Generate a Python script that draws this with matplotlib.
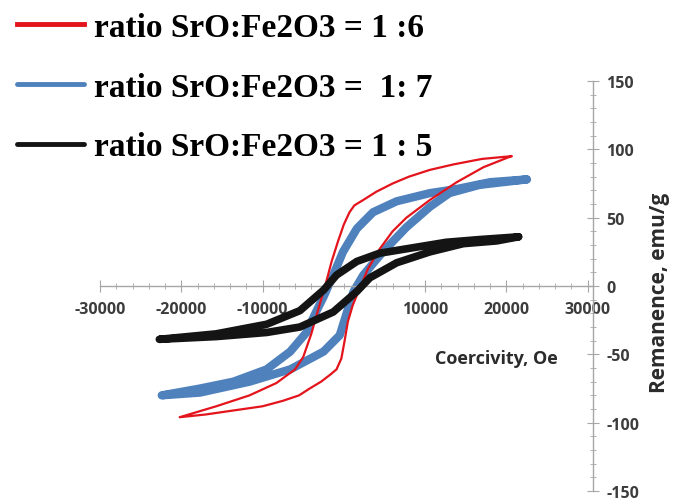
import matplotlib
matplotlib.use('Agg')
import matplotlib.pyplot as plt
from matplotlib.ticker import MultipleLocator, FixedLocator

# ratio 1:6 (red) - descending and ascending branches
red_desc_x = [20600, 17000, 13500, 10600, 8000, 6000, 4000, 2400, 1300, 700, 0, -700, -1500,
              -2300, -3000, -4000, -5000, -6000, -8300, -11600, -15700, -20200]
red_desc_y = [95, 93, 89, 85, 80, 75, 69, 63, 59, 54, 45, 33, 18,
              0, -14, -35, -52, -61, -71, -80, -88, -96]
red_asc_x = [-20200, -17000, -13500, -10000, -7500, -5500, -4200, -2800, -1700, -900, -300, 100,
             500, 1100, 1800, 2300, 3000, 4400, 6000, 7700, 10600, 13900, 17200, 20600]
red_asc_y = [-96, -94, -91, -88, -84, -80, -75, -70, -65, -61, -53, -40,
             -26, -14, -4, 3, 13, 27, 40, 50, 63, 76, 87, 95]

# ratio 1:7 (blue)
blue_desc_x = [22500, 18000, 13900, 10600, 6500, 3600, 1600, -100, -1300, -2500, -3500, -4600,
               -6600, -9500, -13600, -17700, -22400]
blue_desc_y = [78, 76, 71, 68, 62, 54, 42, 25, 8, -8, -20, -34, -48, -61, -70, -75, -80]
blue_asc_x = [-22400, -17700, -11600, -6600, -2500, -500, 500, 1200, 2400, 4800, 7700, 10600,
              13000, 16700, 22500]
blue_asc_y = [-80, -78, -70, -61, -48, -36, -17, -4, 8, 25, 43, 58, 68, 74, 78]

# ratio 1:5 (black)
black_desc_x = [21500, 16700, 12600, 8500, 4400, 1600, -900, -2500, -5400, -9500, -15700, -22700]
black_desc_y = [36, 34, 32, 28, 24, 18, 8, -3, -18, -28, -35, -39]
black_asc_x = [-22700, -15700, -9500, -5400, -1300, 1600, 3200, 6500, 10600, 14700, 18800, 21500]
black_asc_y = [-39, -37, -34, -30, -19, -4, 6, 17, 25, 31, 33, 36]

labels = ['ratio SrO:Fe2O3 = 1 :6', 'ratio SrO:Fe2O3 =  1: 7', 'ratio SrO:Fe2O3 = 1 : 5']
x_ticks = [-30000, -20000, -10000, 10000, 20000, 30000]
y_ticks = [-150, -100, -50, 0, 50, 100, 150]

fig = plt.figure(figsize=(6.73, 5.02), dpi=100)
ax = fig.add_axes([0.1486, 0.0199, 0.7318, 0.8167])

blue, = ax.plot(blue_desc_x + blue_asc_x, blue_desc_y + blue_asc_y, color='#4f81bd', lw=6,
                solid_capstyle='round', zorder=2)
red, = ax.plot(red_desc_x + red_asc_x, red_desc_y + red_asc_y, color='#e3141c', lw=1.6, zorder=3)
black, = ax.plot(black_desc_x + black_asc_x, black_desc_y + black_asc_y, color='#141414', lw=5.5,
                 solid_capstyle='round', zorder=4)

ax.set_xlim(-30000, 30600)
ax.set_ylim(-150, 150)

for s in ['left', 'top']:
    ax.spines[s].set_visible(False)
ax.spines['bottom'].set_position(('data', 0))
ax.spines['right'].set_position(('data', 30600))
for s in ['bottom', 'right']:
    ax.spines[s].set_color('#a6a6a6')
    ax.spines[s].set_linewidth(1.0)

ax.xaxis.set_major_locator(FixedLocator(x_ticks))
ax.xaxis.set_minor_locator(MultipleLocator(2000))
ax.yaxis.set_major_locator(FixedLocator(y_ticks))
ax.yaxis.set_minor_locator(MultipleLocator(10))
ax.yaxis.tick_right()

tick_font = dict(family='Open Sans', weight='bold', size=11.5)
ax.tick_params(axis='both', which='major', direction='inout', length=8, color='#a6a6a6',
               labelcolor='#3c3c3c')
ax.tick_params(axis='both', which='minor', direction='inout', length=4, color='#a6a6a6')
ax.tick_params(axis='x', pad=7)
ax.tick_params(axis='y', pad=6)
ax.set_xticklabels([str(t) for t in x_ticks], fontdict=tick_font)
ax.set_yticklabels([str(t) for t in y_ticks], fontdict=tick_font)

ax.text(18800, -53, 'Coercivity, Oe', ha='center', va='center', family='Open Sans',
        weight='bold', size=13, color='#2b2b2b')
ax.text(38900, -4, 'Remanence, emu/g', ha='center', va='center', rotation=90,
        family='Open Sans', weight='bold', size=15, color='#2b2b2b', clip_on=False)

leg = fig.legend([red, blue, black], labels, loc='upper left', bbox_to_anchor=(0.026, 0.974),
                 frameon=False, borderpad=0, borderaxespad=0, handlelength=2.0,
                 handletextpad=0.3, labelspacing=0.86,
                 prop=dict(family='Liberation Serif', weight='bold', size=24))
for h in leg.legend_handles:
    h.set_linewidth(3.5)

fig.savefig('out.png', dpi=100)
